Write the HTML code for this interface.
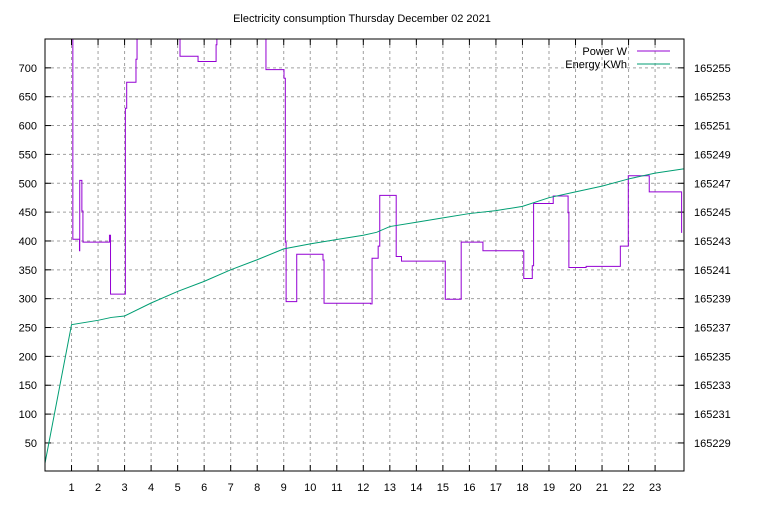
<!DOCTYPE html>
<html><head><meta charset="utf-8"><style>
html,body{margin:0;padding:0;background:#fff}
svg text{font-family:"Liberation Sans",sans-serif;font-size:11px;fill:#000}
</style></head><body>
<svg id="chart" width="768" height="500" viewBox="0 0 768 500" xmlns="http://www.w3.org/2000/svg">
<defs><clipPath id="pc"><rect x="45" y="39" width="639" height="432"/></clipPath></defs>
<text x="362" y="22" text-anchor="middle">Electricity consumption Thursday December 02 2021</text>
<g id="grid"></g>
<g id="axes"></g>
<g clip-path="url(#pc)" id="series"></g>
<rect x="45" y="39" width="639" height="432" fill="none" stroke="#000" stroke-width="1"/>
<g>
<text x="627" y="55" text-anchor="end">Power W</text>
<line x1="637" y1="51" x2="670" y2="51" stroke="#9400d3" stroke-width="1"/>
<text x="627" y="68" text-anchor="end">Energy KWh</text>
<line x1="637" y1="64" x2="670" y2="64" stroke="#009e73" stroke-width="1"/>
</g>
</svg>
<script>
const xTicks = [1,2,3,4,5,6,7,8,9,10,11,12,13,14,15,16,17,18,19,20,21,22,23];
const yTicks = [50,100,150,200,250,300,350,400,450,500,550,600,650,700];
const y2Ticks = [165229,165231,165233,165235,165237,165239,165241,165243,165245,165247,165249,165251,165253,165255];
const powerTimes = [1.0,1.05,1.3,1.31,1.39,1.43,2.43,2.47,3.03,3.08,3.43,3.47,5.09,5.77,6.45,6.48,8.33,9.01,9.06,9.09,9.49,10.48,10.52,12.27,12.33,12.56,12.62,13.24,13.44,15.09,15.69,16.51,18.05,18.37,18.42,19.16,19.72,19.75,20.4,21.69,21.99,22.78,24.0];
const powerValues = [800,403,383,505,452,398,410,308,630,675,715,800,720,711,740,800,697,682,398,295,377,367,292,291,370,391,479,373,365,299,398,383,335,357,465,478,449,354,356,391,513,485,414];
const energyTimes = [0,1,2,2.5,3,4,5,6,7,8,9,10,11,12,12.5,13,14,15,16,17,18,19,20,21,22,23,24.07];
const energyValues = [165227.6,165237.2,165237.5,165237.7,165237.8,165238.7,165239.5,165240.2,165241.0,165241.7,165242.45,165242.8,165243.1,165243.4,165243.6,165244.0,165244.3,165244.6,165244.9,165245.1,165245.4,165246.0,165246.4,165246.8,165247.3,165247.7,165248.0];

const L=45,R=684,T=39,B=471.8;
const xMin=0,xMax=24.09,yMin=0,yMax=750,y2Min=165227,y2Max=165257;
const sx=v=>L+(v-xMin)/(xMax-xMin)*(R-L);
const sy=v=>B-(v-yMin)/(yMax-yMin)*(B-T);
const sy2=v=>B-(v-y2Min)/(y2Max-y2Min)*(B-T);
const NS="http://www.w3.org/2000/svg";
function mk(tag,attrs,parent){const e=document.createElementNS(NS,tag);for(const k in attrs)e.setAttribute(k,attrs[k]);parent.appendChild(e);return e;}
const grid=document.getElementById('grid'),axes=document.getElementById('axes'),series=document.getElementById('series');
xTicks.forEach(t=>{
  const x=sx(t);
  const g=mk('line',{x1:x,y1:T,x2:x,y2:471,stroke:'#a0a0a0','stroke-dasharray':'3,3','stroke-width':1},grid);
  
  
  const tk=mk('path',{d:`M${x},471v-6M${x},${T}v6`,stroke:'#000','stroke-width':1},axes);
  
  
  const lb=mk('text',{x:x,y:491,'text-anchor':'middle'},axes);lb.textContent=t;
  
  
});
yTicks.forEach(t=>{
  const y=sy(t);
  const g=mk('line',{x1:L,y1:y,x2:R,y2:y,stroke:'#a0a0a0','stroke-dasharray':'3,3','stroke-width':1},grid);
  
  
  const tk=mk('path',{d:`M${L},${y}h6`,stroke:'#000','stroke-width':1},axes);
  
  
  const lb=mk('text',{x:37,y:y+4,'text-anchor':'end'},axes);lb.textContent=t;
  
  
});
y2Ticks.forEach(t=>{
  const y=sy2(t);
  const tk=mk('path',{d:`M${R},${y}h-6`,stroke:'#000','stroke-width':1},axes);
  
  
  const lb=mk('text',{x:694,y:y+4,'text-anchor':'start'},axes);lb.textContent=t;
  
  
});
let d=`M${sx(powerTimes[0])},${sy(powerValues[0])}`;
for(let i=1;i<powerTimes.length;i++){d+=`H${sx(powerTimes[i])}V${sy(powerValues[i])}`;}
const pl=mk('path',{d:d,fill:'none',stroke:'#9400d3','stroke-width':1},series);


let d2='';
energyTimes.forEach((t,i)=>{d2+=(i?'L':'M')+sx(t)+','+sy2(energyValues[i]);});
const el=mk('path',{d:d2,fill:'none',stroke:'#009e73','stroke-width':1},series);


</script>
</body></html>
